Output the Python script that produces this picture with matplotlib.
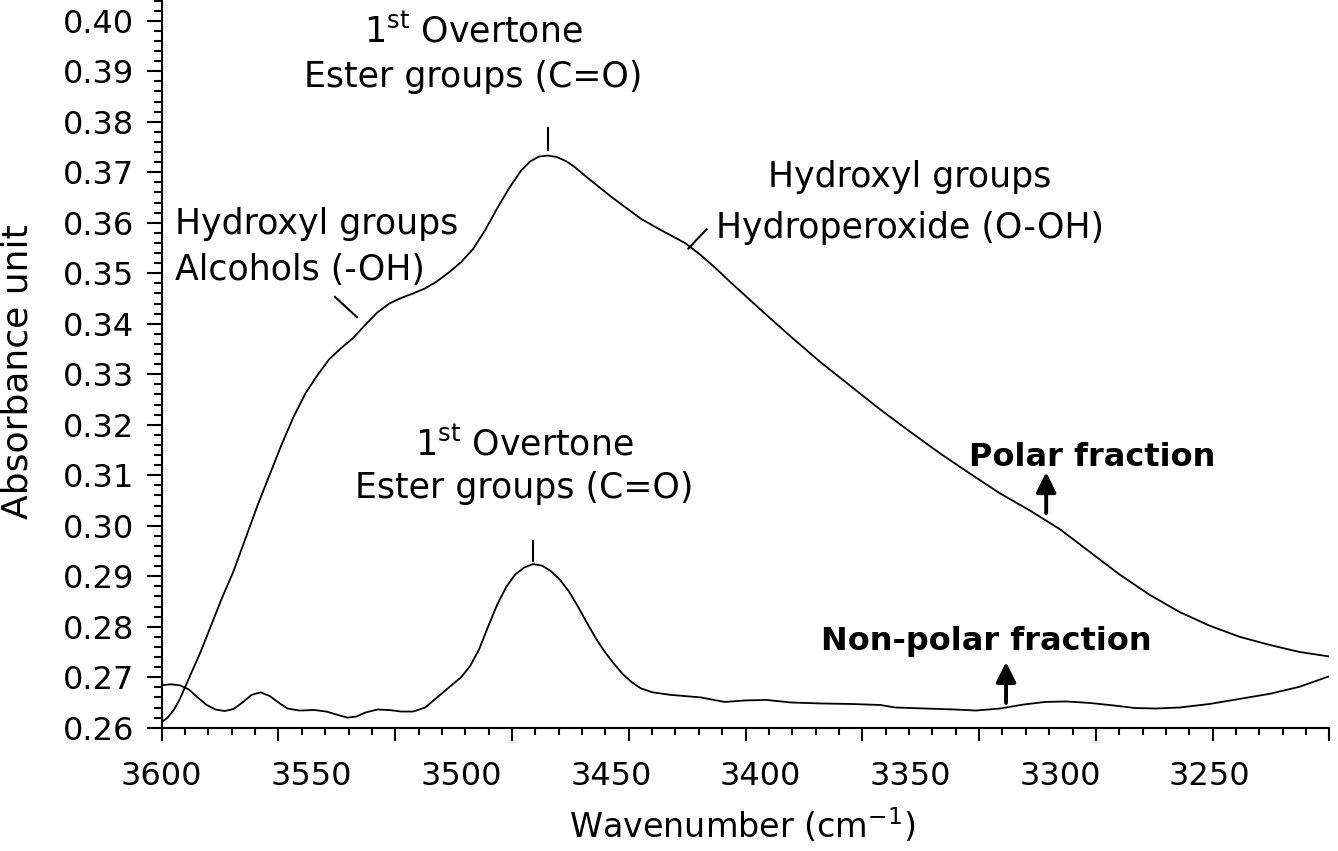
import numpy as np
import matplotlib
matplotlib.use('Agg')
import matplotlib.pyplot as plt

plt.rcParams['font.family'] = ['DejaVu Sans']
plt.rcParams['mathtext.fontset'] = 'dejavusans'

# ---------------- data ----------------
polar_wn = [3600.0, 3598.0, 3596.0, 3594.0, 3592.0, 3590.0, 3587.0, 3584.0, 3580.0,
            3576.0, 3572.0, 3568.0, 3564.0, 3560.0, 3556.0, 3552.0, 3548.0, 3544.0,
            3540.0, 3536.0, 3532.0, 3528.0, 3524.0, 3520.0, 3516.0, 3512.0, 3508.0,
            3504.0, 3500.0, 3496.0, 3492.0, 3488.0, 3484.0, 3480.0, 3477.0, 3474.0,
            3471.0, 3468.0, 3465.0, 3462.0, 3458.0, 3454.0, 3450.0, 3445.0, 3440.0,
            3435.0, 3430.0, 3425.0, 3420.0, 3415.0, 3410.0, 3400.0, 3390.0, 3380.0,
            3370.0, 3360.0, 3350.0, 3340.0, 3330.0, 3320.0, 3310.0, 3300.0, 3290.0,
            3280.0, 3270.0, 3260.0, 3250.0, 3240.0, 3230.0, 3220.0, 3210.0]
polar_abs = [0.2611, 0.2620, 0.2635, 0.2656, 0.2683, 0.2710, 0.2750, 0.2795, 0.2855,
             0.2910, 0.2975, 0.3040, 0.3100, 0.3160, 0.3215, 0.3262, 0.3298, 0.3330,
             0.3352, 0.3372, 0.3398, 0.3422, 0.3440, 0.3451, 0.3460, 0.3470, 0.3484,
             0.3502, 0.3522, 0.3548, 0.3585, 0.3628, 0.3668, 0.3703, 0.3721, 0.3731,
             0.3733, 0.3730, 0.3722, 0.3710, 0.3690, 0.3671, 0.3652, 0.3630, 0.3608,
             0.3591, 0.3575, 0.3559, 0.3536, 0.3510, 0.3482, 0.3428, 0.3375, 0.3324,
             0.3277, 0.3230, 0.3186, 0.3143, 0.3103, 0.3064, 0.3030, 0.2993, 0.2948,
             0.2903, 0.2863, 0.2829, 0.2802, 0.2780, 0.2764, 0.2750, 0.2741]

nonpolar_wn = [3600.0, 3597.0, 3594.0, 3591.0, 3588.0, 3585.0, 3582.0, 3579.0, 3576.0,
               3573.0, 3570.0, 3567.0, 3564.0, 3561.0, 3558.0, 3554.0, 3549.0, 3545.0,
               3541.0, 3538.0, 3535.0, 3532.0, 3528.0, 3524.0, 3520.0, 3516.0, 3512.0,
               3508.0, 3504.0, 3500.0, 3497.0, 3494.0, 3491.0, 3488.0, 3485.0, 3482.0,
               3479.0, 3476.0, 3473.0, 3470.0, 3467.0, 3464.0, 3461.0, 3458.0, 3455.0,
               3452.0, 3449.0, 3446.0, 3443.0, 3440.0, 3436.0, 3430.0, 3420.0, 3412.0,
               3405.0, 3398.0, 3390.0, 3380.0, 3370.0, 3360.0, 3355.0, 3345.0, 3335.0,
               3328.0, 3320.0, 3312.0, 3305.0, 3298.0, 3290.0, 3282.0, 3275.0, 3268.0,
               3260.0, 3250.0, 3240.0, 3230.0, 3220.0, 3210.0]
nonpolar_abs = [0.2684, 0.2686, 0.2684, 0.2676, 0.2660, 0.2645, 0.2636, 0.2633, 0.2637,
                0.2650, 0.2665, 0.2670, 0.2663, 0.2650, 0.2638, 0.2634, 0.2635, 0.2632,
                0.2625, 0.2620, 0.2622, 0.2630, 0.2636, 0.2635, 0.2632, 0.2632, 0.2640,
                0.2660, 0.2680, 0.2700, 0.2722, 0.2755, 0.2800, 0.2843, 0.2878, 0.2903,
                0.2917, 0.2924, 0.2921, 0.2910, 0.2893, 0.2870, 0.2840, 0.2808, 0.2777,
                0.2750, 0.2727, 0.2706, 0.2690, 0.2678, 0.2670, 0.2665, 0.2660, 0.2651,
                0.2654, 0.2655, 0.2650, 0.2648, 0.2647, 0.2645, 0.2640, 0.2638, 0.2636,
                0.2634, 0.2638, 0.2646, 0.2651, 0.2652, 0.2649, 0.2644, 0.2639, 0.2638,
                0.2640, 0.2647, 0.2657, 0.2667, 0.2681, 0.2702]

x_label_ticks = [3600, 3550, 3500, 3450, 3400, 3350, 3300, 3250]
y_ticks = [0.26, 0.27, 0.28, 0.29, 0.30, 0.31, 0.32, 0.33, 0.34, 0.35, 0.36, 0.37,
           0.38, 0.39, 0.40]

# ---------------- figure ----------------
W, H = 1338, 851
fig = plt.figure(figsize=(W / 100, H / 100), dpi=100)
ax = fig.add_axes([161.7 / W, (H - 727.7) / H, (1329.4 - 161.7) / W, 727.7 / H])

ax.plot(polar_wn, polar_abs, color='black', lw=1.3)
ax.plot(nonpolar_wn, nonpolar_abs, color='black', lw=1.3)

ax.set_xlim(3600, 3210)
ax.set_ylim(0.26, 0.4041)

for s in ['top', 'right']:
    ax.spines[s].set_visible(False)
for s in ['left', 'bottom']:
    ax.spines[s].set_linewidth(1.5)

# y axis ticks
ax.set_yticks(y_ticks)
ax.set_yticklabels(['%.2f' % v for v in y_ticks])
ax.set_yticks(np.arange(0.26, 0.4045, 0.002), minor=True)
ax.tick_params(axis='y', which='major', length=10.8, width=1.5, labelsize=23, pad=9)
ax.tick_params(axis='y', which='minor', length=5.5, width=1.5)

# x axis: tick marks divide the axis into equal parts, labels every 50 cm-1
ax.set_xticks(np.linspace(3600, 3210, 11))
ax.set_xticklabels([])
ax.set_xticks(np.linspace(3600, 3210, 51), minor=True)
ax.tick_params(axis='x', which='major', length=9.5, width=1.5)
ax.tick_params(axis='x', which='minor', length=5, width=1.5)

sec = ax.secondary_xaxis('bottom')
sec.set_xticks(x_label_ticks)
sec.set_xticklabels([str(v) for v in x_label_ticks])
sec.tick_params(axis='x', length=0, labelsize=23, pad=24)
sec.spines['bottom'].set_visible(False)

ax.set_ylabel('Absorbance unit', fontsize=26)
ax.yaxis.set_label_coords(-0.1231, 0.49)
ax.yaxis.label.set_va('center')

ax.set_xlabel('Wavenumber (cm$^{-1}$)', fontsize=24)
ax.xaxis.set_label_coords(0.497, -0.135)
ax.xaxis.label.set_va('center')

# ---------------- annotations ----------------
fs = 25
ip = int(np.argmax(polar_abs))
ax.plot([polar_wn[ip], polar_wn[ip]], [polar_abs[ip] + 0.0011, polar_abs[ip] + 0.0055],
        color='black', lw=1.5)
ax.text(3495.9, 0.3956, '1$^{\\mathrm{st}}$ Overtone', ha='center', va='baseline', fontsize=fs)
ax.text(3495.9, 0.3869, 'Ester groups (C=O)', ha='center', va='baseline', fontsize=fs)

inp = int(np.argmax(nonpolar_abs))
ax.plot([nonpolar_wn[inp], nonpolar_wn[inp]],
        [nonpolar_abs[inp] + 0.0007, nonpolar_abs[inp] + 0.0046], color='black', lw=1.5)
ax.text(3478.8, 0.3140, '1$^{\\mathrm{st}}$ Overtone', ha='center', va='baseline', fontsize=fs)
ax.text(3478.8, 0.3055, 'Ester groups (C=O)', ha='center', va='baseline', fontsize=fs)

ax.text(3595.6, 0.3578, 'Hydroxyl groups', ha='left', va='baseline', fontsize=fs)
ax.text(3595.6, 0.3487, 'Alcohols (-OH)', ha='left', va='baseline', fontsize=fs)
ax.plot([3542.1, 3534.8], [0.3453, 0.3413], color='black', lw=1.5)

ax.text(3350.1, 0.3671, 'Hydroxyl groups', ha='center', va='baseline', fontsize=fs)
ax.text(3350.1, 0.3570, 'Hydroperoxide (O-OH)', ha='center', va='baseline', fontsize=fs)
ax.plot([3424.1, 3418.0], [0.3549, 0.3587], color='black', lw=1.5)

ax.text(3289.1, 0.3118, 'Polar fraction', ha='center', va='baseline', fontsize=23,
        fontweight='bold')
ax.text(3324.7, 0.2754, 'Non-polar fraction', ha='center', va='baseline', fontsize=23,
        fontweight='bold')

arrow = dict(arrowstyle='-|>,head_length=0.6,head_width=0.3', color='black', lw=2.8,
             shrinkA=0, shrinkB=0, mutation_scale=20)
ax.annotate('', xy=(3304.6, 0.3106), xytext=(3304.6, 0.3025), arrowprops=arrow)
ax.annotate('', xy=(3318.0, 0.2730), xytext=(3318.0, 0.2649), arrowprops=arrow)

fig.savefig('out.png', dpi=100)
